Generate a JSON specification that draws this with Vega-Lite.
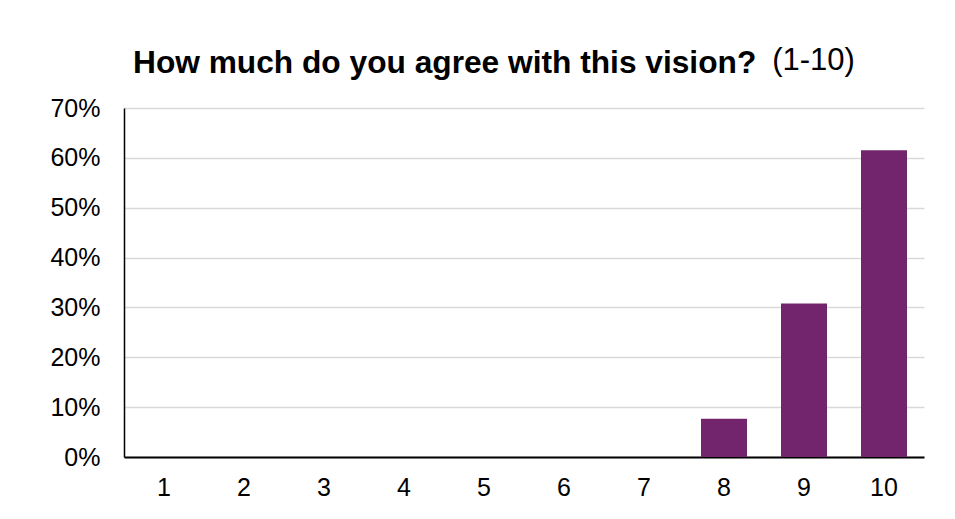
{
  "$schema": "https://vega.github.io/schema/vega-lite/v6.json",
  "width": 800,
  "height": 349,
  "autosize": {"type": "none"},
  "padding": {"left": 124, "top": 108, "right": 31, "bottom": 62},
  "background": "white",
  "title": {
    "text": "How much do you agree with this vision?",
    "font": "Liberation Sans",
    "fontSize": 31.7,
    "fontWeight": "bold",
    "color": "#000000",
    "anchor": "start",
    "frame": "group",
    "dx": 9,
    "offset": -36
  },
  "data": {
    "values": [
      {"rating": "1", "share": 0},
      {"rating": "2", "share": 0},
      {"rating": "3", "share": 0},
      {"rating": "4", "share": 0},
      {"rating": "5", "share": 0},
      {"rating": "6", "share": 0},
      {"rating": "7", "share": 0},
      {"rating": "8", "share": 0.0769},
      {"rating": "9", "share": 0.3077},
      {"rating": "10", "share": 0.6154}
    ]
  },
  "mark": {"type": "bar", "color": "#72246C"},
  "encoding": {
    "x": {
      "field": "rating",
      "type": "ordinal",
      "sort": null,
      "scale": {"paddingInner": 0.425, "paddingOuter": 0.2125},
      "axis": {
        "title": "(1-10)",
        "titleFont": "Liberation Sans",
        "titleFontSize": 31,
        "titleFontWeight": "normal",
        "titleColor": "#000000",
        "titleX": 689,
        "titleY": -388,
        "titleAlign": "center",
        "titleBaseline": "alphabetic",
        "labelAngle": 0,
        "labelFont": "Liberation Sans",
        "labelFontSize": 25,
        "labelColor": "#000000",
        "labelPadding": 18,
        "ticks": false,
        "tickSize": 0,
        "domainColor": "#000000",
        "domainWidth": 2,
        "grid": false
      }
    },
    "y": {
      "field": "share",
      "type": "quantitative",
      "scale": {"domain": [0, 0.7], "nice": false},
      "axis": {
        "title": null,
        "format": ".0%",
        "values": [0, 0.1, 0.2, 0.3, 0.4, 0.5, 0.6, 0.7],
        "labelFont": "Liberation Sans",
        "labelFontSize": 25,
        "labelColor": "#000000",
        "labelPadding": 24,
        "ticks": false,
        "tickSize": 0,
        "domainColor": "#000000",
        "domainWidth": 1.5,
        "grid": true,
        "gridColor": "#d9d9d9",
        "gridWidth": 1.3
      }
    }
  },
  "config": {"view": {"stroke": null}}
}
